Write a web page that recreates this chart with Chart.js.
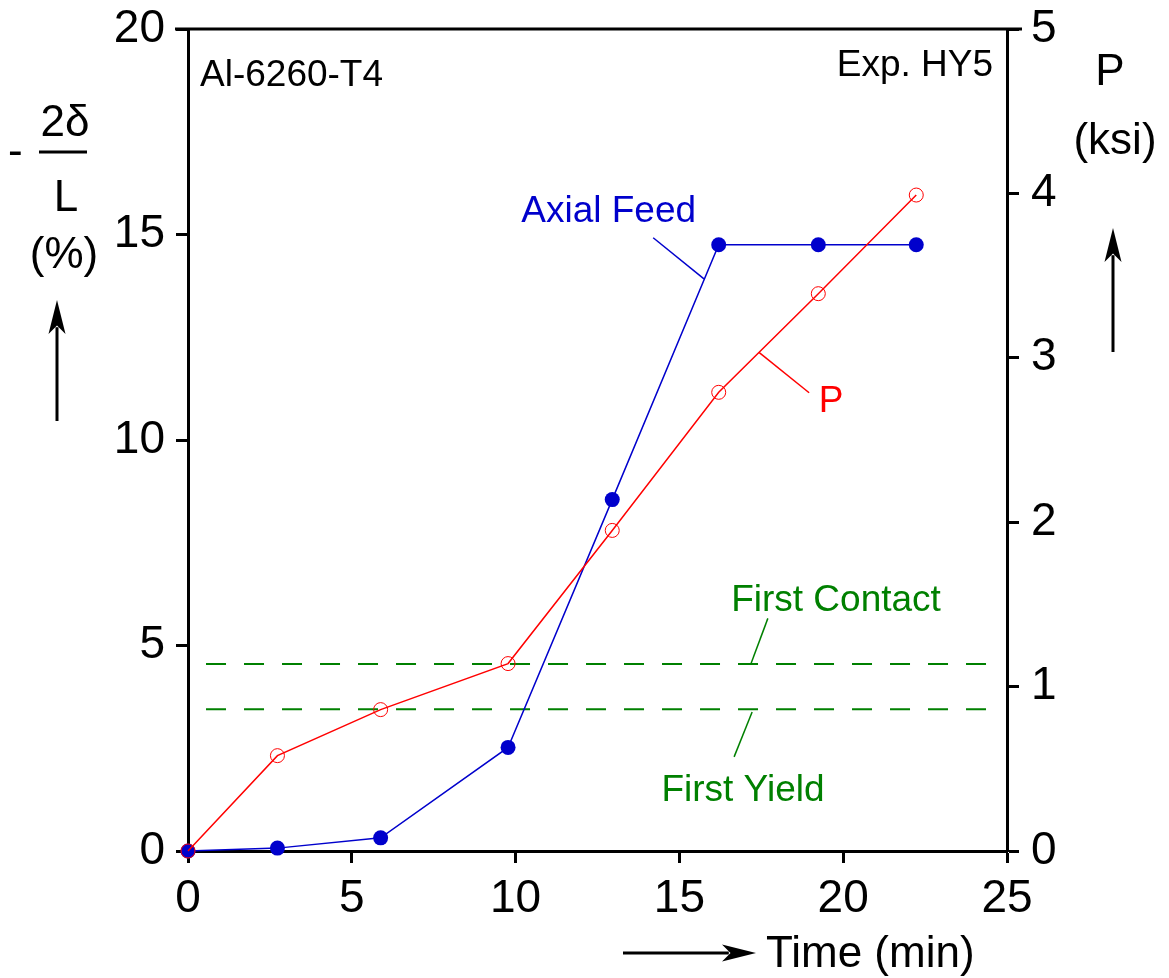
<!DOCTYPE html>
<html>
<head>
<meta charset="utf-8">
<script src="https://cdn.jsdelivr.net/npm/chart.js@4"></script>
<style>
  html, body { margin: 0; padding: 0; background: #fff; }
  canvas { display: block; }
</style>
</head>
<body>
<canvas id="myChart" width="1169" height="978"></canvas>
<script>
'use strict';

// values
let timeMin = [0, 2.73, 5.88, 9.77, 12.95, 16.2, 19.24, 22.23];
let axialFeed = [0, 0.07, 0.32, 2.52, 8.55, 14.75, 14.75, 14.75];
let pressureKsi = [0, 0.58, 0.86, 1.14, 1.95, 2.79, 3.39, 3.99];
let firstContact = 4.55;
let firstYield = 3.45;
let refLineSpan = [0.55, 24.65];
let xTicks = [0, 5, 10, 15, 20, 25];
let leftTicks = [0, 5, 10, 15, 20];
let rightTicks = [0, 1, 2, 3, 4, 5];

const FONT = '"Liberation Sans", Arial, sans-serif';
const BLUE = '#0000cc';
const RED = '#ff0000';
const GREEN = '#008000';

let ctx = document.getElementById('myChart');

function toPoints(xs, ys) {
  return xs.map((x, i) => ({ x: x, y: ys[i] }));
}

function arrow(c, x1, y1, x2, y2) {
  let ang = Math.atan2(y2 - y1, x2 - x1);
  let headLen = 34;
  let headW = 8.5;
  c.beginPath();
  c.moveTo(x1, y1);
  c.lineTo(x2 - headLen * 0.8 * Math.cos(ang), y2 - headLen * 0.8 * Math.sin(ang));
  c.lineWidth = 3;
  c.stroke();
  c.beginPath();
  c.moveTo(x2, y2);
  c.lineTo(x2 - headLen * Math.cos(ang) - headW * Math.sin(ang), y2 - headLen * Math.sin(ang) + headW * Math.cos(ang));
  c.lineTo(x2 - headLen * 0.75 * Math.cos(ang), y2 - headLen * 0.75 * Math.sin(ang));
  c.lineTo(x2 - headLen * Math.cos(ang) + headW * Math.sin(ang), y2 - headLen * Math.sin(ang) - headW * Math.cos(ang));
  c.closePath();
  c.fill();
}

// labels, leader lines and frame that Chart.js has no option for
let decorations = {
  id: 'decorations',
  afterDatasetsDraw(chart) {
    let c = chart.ctx;
    let a = chart.chartArea;
    let xs = chart.scales.x;
    let ys = chart.scales.y;
    let px = v => xs.getPixelForValue(v);
    let py = v => ys.getPixelForValue(v);

    c.save();
    // top frame line
    c.strokeStyle = '#000';
    c.lineWidth = 3;
    c.beginPath();
    c.moveTo(a.left - 13, a.top);
    c.lineTo(a.right + 15, a.top);
    c.stroke();

    c.lineWidth = 1.5;
    // leader lines
    let leaders = [
      [BLUE, 14.2, 14.92, 15.75, 13.92],
      [RED, 17.43, 12.13, 18.96, 11.15],
      [GREEN, 17.7, 5.66, 17.19, 4.57],
      [GREEN, 17.22, 3.38, 16.67, 2.29]
    ];
    leaders.forEach(l => {
      c.strokeStyle = l[0];
      c.beginPath();
      c.moveTo(px(l[1]), py(l[2]));
      c.lineTo(px(l[3]), py(l[4]));
      c.stroke();
    });

    c.textBaseline = 'alphabetic';
    c.font = '37px ' + FONT;
    c.textAlign = 'center';
    c.fillStyle = BLUE;
    c.fillText('Axial Feed', px(12.84), py(15.63) + 13);
    c.fillStyle = RED;
    c.fillText('P', px(19.63), py(11.0) + 13);
    c.fillStyle = GREEN;
    c.fillText('First Contact', px(19.78), py(6.15) + 13);
    c.fillText('First Yield', px(16.94), py(1.53) + 13);

    c.fillStyle = '#000';
    c.textAlign = 'left';
    c.fillText('Al-6260-T4', a.left + 12, 86);
    c.textAlign = 'right';
    c.fillText('Exp. HY5', a.right - 14, 76);

    // right axis title
    c.font = '44px ' + FONT;
    c.textAlign = 'center';
    c.fillText('P', 1110, 85);
    c.fillText('(ksi)', 1115, 154);
    c.strokeStyle = '#000';
    arrow(c, 1113, 352, 1113, 228);

    // left axis title
    c.textAlign = 'left';
    c.fillText('-', 8, 165);
    c.textAlign = 'center';
    c.fillText('2\u03b4', 65, 136);
    c.fillText('L', 66, 211);
    c.fillText('(%)', 64, 268);
    c.lineWidth = 3;
    c.beginPath();
    c.moveTo(39, 152);
    c.lineTo(87, 152);
    c.stroke();
    arrow(c, 57, 421, 57, 300);

    // bottom axis title
    c.textAlign = 'left';
    c.fillText('Time (min)', 766, 967);
    arrow(c, 623, 953, 756, 953);
    c.restore();
  }
};

function axisStyle(ticks) {
  return {
    ticks: {
      color: '#000',
      font: { family: FONT, size: 46 },
      autoSkip: false
    },
    afterBuildTicks(axis) {
      axis.ticks = ticks.map(v => ({ value: v }));
    },
    grid: {
      drawOnChartArea: false,
      color: '#000',
      tickLength: 12,
      tickWidth: 3
    },
    border: { color: '#000', width: 3 }
  };
}

let xAxis = axisStyle(xTicks);
xAxis.type = 'linear';
xAxis.position = 'bottom';
xAxis.min = 0;
xAxis.max = 25;
xAxis.ticks.padding = 9;
xAxis.afterFit = axis => {
  axis.height = 127;
  axis.paddingLeft = 0;
  axis.paddingRight = 0;
};

let yAxis = axisStyle(leftTicks);
yAxis.position = 'left';
yAxis.min = 0;
yAxis.max = 20;
yAxis.ticks.padding = 11;
yAxis.afterFit = axis => {
  axis.width = 188;
  axis.paddingTop = 0;
  axis.paddingBottom = 0;
};

let y2Axis = axisStyle(rightTicks);
y2Axis.position = 'right';
y2Axis.min = 0;
y2Axis.max = 5;
y2Axis.ticks.padding = 12;
y2Axis.afterFit = axis => {
  axis.width = 162;
  axis.paddingTop = 0;
  axis.paddingBottom = 0;
};

new Chart(ctx, {
  type: 'line',
  data: {
    datasets: [
      {
        label: 'P',
        data: toPoints(timeMin, pressureKsi),
        yAxisID: 'y2',
        borderColor: RED,
        borderWidth: 1.5,
        backgroundColor: 'rgba(0,0,0,0)',
        pointRadius: 7,
        pointBorderWidth: 1,
        pointBorderColor: RED,
        pointBackgroundColor: 'rgba(0,0,0,0)',
        tension: 0
      },
      {
        label: 'Axial Feed',
        data: toPoints(timeMin, axialFeed),
        yAxisID: 'y',
        borderColor: BLUE,
        borderWidth: 1.5,
        pointRadius: 7.5,
        pointBorderWidth: 0,
        pointBackgroundColor: BLUE,
        tension: 0
      },
      {
        label: 'First Contact',
        data: toPoints(refLineSpan, [firstContact, firstContact]),
        yAxisID: 'y',
        borderColor: GREEN,
        borderWidth: 2,
        borderDash: [20, 18],
        pointRadius: 0
      },
      {
        label: 'First Yield',
        data: toPoints(refLineSpan, [firstYield, firstYield]),
        yAxisID: 'y',
        borderColor: GREEN,
        borderWidth: 2,
        borderDash: [20, 18],
        pointRadius: 0
      }
    ]
  },
  options: {
    responsive: false,
    devicePixelRatio: 1,
    animation: false,
    clip: false,
    layout: { padding: { top: 29, left: 0, right: 0, bottom: 0 } },
    plugins: {
      legend: { display: false },
      tooltip: { enabled: false }
    },
    scales: {
      x: xAxis,
      y: yAxis,
      y2: y2Axis
    }
  },
  plugins: [decorations]
});
</script>
</body>
</html>
